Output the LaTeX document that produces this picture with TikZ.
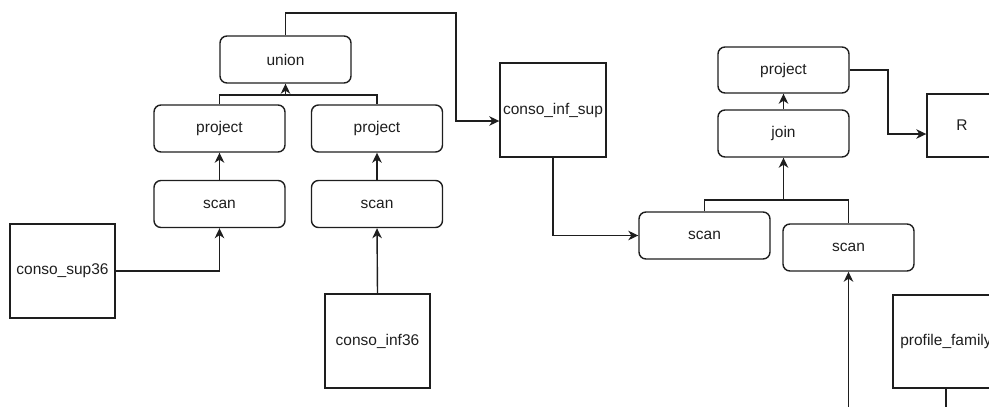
\documentclass[tikz,border=0pt]{standalone}
\usepackage{fontspec}
\setmainfont{Liberation Sans}
\usetikzlibrary{arrows.meta}
\definecolor{ink}{HTML}{1E1E1E}
\tikzset{
  base/.style={draw=ink, line width=1.4pt, text=ink, font=\fontsize{15.5}{18}\selectfont, inner sep=0pt},
  opbox/.style={base, rectangle, rounded corners=7pt, minimum width=131pt, minimum height=47pt},
  tblbox/.style={base, rectangle, minimum width=105pt, minimum height=94pt},
  wire/.style={draw=ink, line width=1.4pt},
  arr/.style={wire, -{Stealth[length=10pt,width=9.5pt,inset=3pt]}}
}
\begin{document}
\begin{tikzpicture}[x=1pt,y=-1pt]
\path[use as bounding box] (0,0) rectangle (989,407);
\clip (0,0) rectangle (989,407);
% left tree
\node[opbox] (union) at (285.5,59.5) {union};
\node[opbox] (projL) at (219.5,128.5) {project};
\node[opbox] (projR) at (377,128.5) {project};
\node[opbox] (scanL) at (219.5,204) {scan};
\node[opbox] (scanR) at (377,204) {scan};
\node[tblbox] (sup36) at (62.5,271) {conso\_sup36};
\node[tblbox] (inf36) at (377.5,341) {conso\_inf36};
\node[tblbox, minimum width=106pt] (cis) at (553,110) {conso\_inf\_sup};
% right tree
\node[opbox, minimum height=46pt] (proj2) at (783.5,70) {project};
\node[opbox] (join) at (783.5,133.5) {join};
\node[opbox] (scan3) at (704.5,235.5) {scan};
\node[opbox] (scan4) at (848.5,247.5) {scan};
\node[tblbox, minimum width=70pt, minimum height=63pt] (R) at (962,125.5) {R};
\node[tblbox, minimum width=106pt, minimum height=93pt] (prof) at (946,341.5) {profile\_family};
% coordinates
\coordinate (busU) at (285.5,95);
\coordinate (busJ) at (783.5,200);
\coordinate (inScan4) at (848.5,412);
\coordinate (outProf) at (946,412);
% connectors left
\draw[wire] (projL.north) |- (busU) -| (projR.north);
\draw[arr] (busU) -- (union.south);
\draw[arr] (scanL.north) -- (projL.south);
\draw[arr] (scanR.north) -- (projR.south);
\draw[arr] (sup36.east) -| (scanL.south);
\draw[arr] (inf36.north) -- (scanR.south);
\draw[arr] (union.north) |- (456,13) |- ([yshift=-11pt]cis.west);
% connectors right
\draw[arr] (cis.south) |- (scan3.west);
\draw[wire] (scan3.north) |- (busJ) -| (scan4.north);
\draw[arr] (busJ) -- (join.south);
\draw[arr] (join.north) -- (proj2.south);
\draw[arr] (proj2.east) -| (888,100) |- ([yshift=-8.5pt]R.west);
\draw[arr] (inScan4) -- (scan4.south);
\draw[wire] (prof.south) -- (outProf);
\end{tikzpicture}
\end{document}
